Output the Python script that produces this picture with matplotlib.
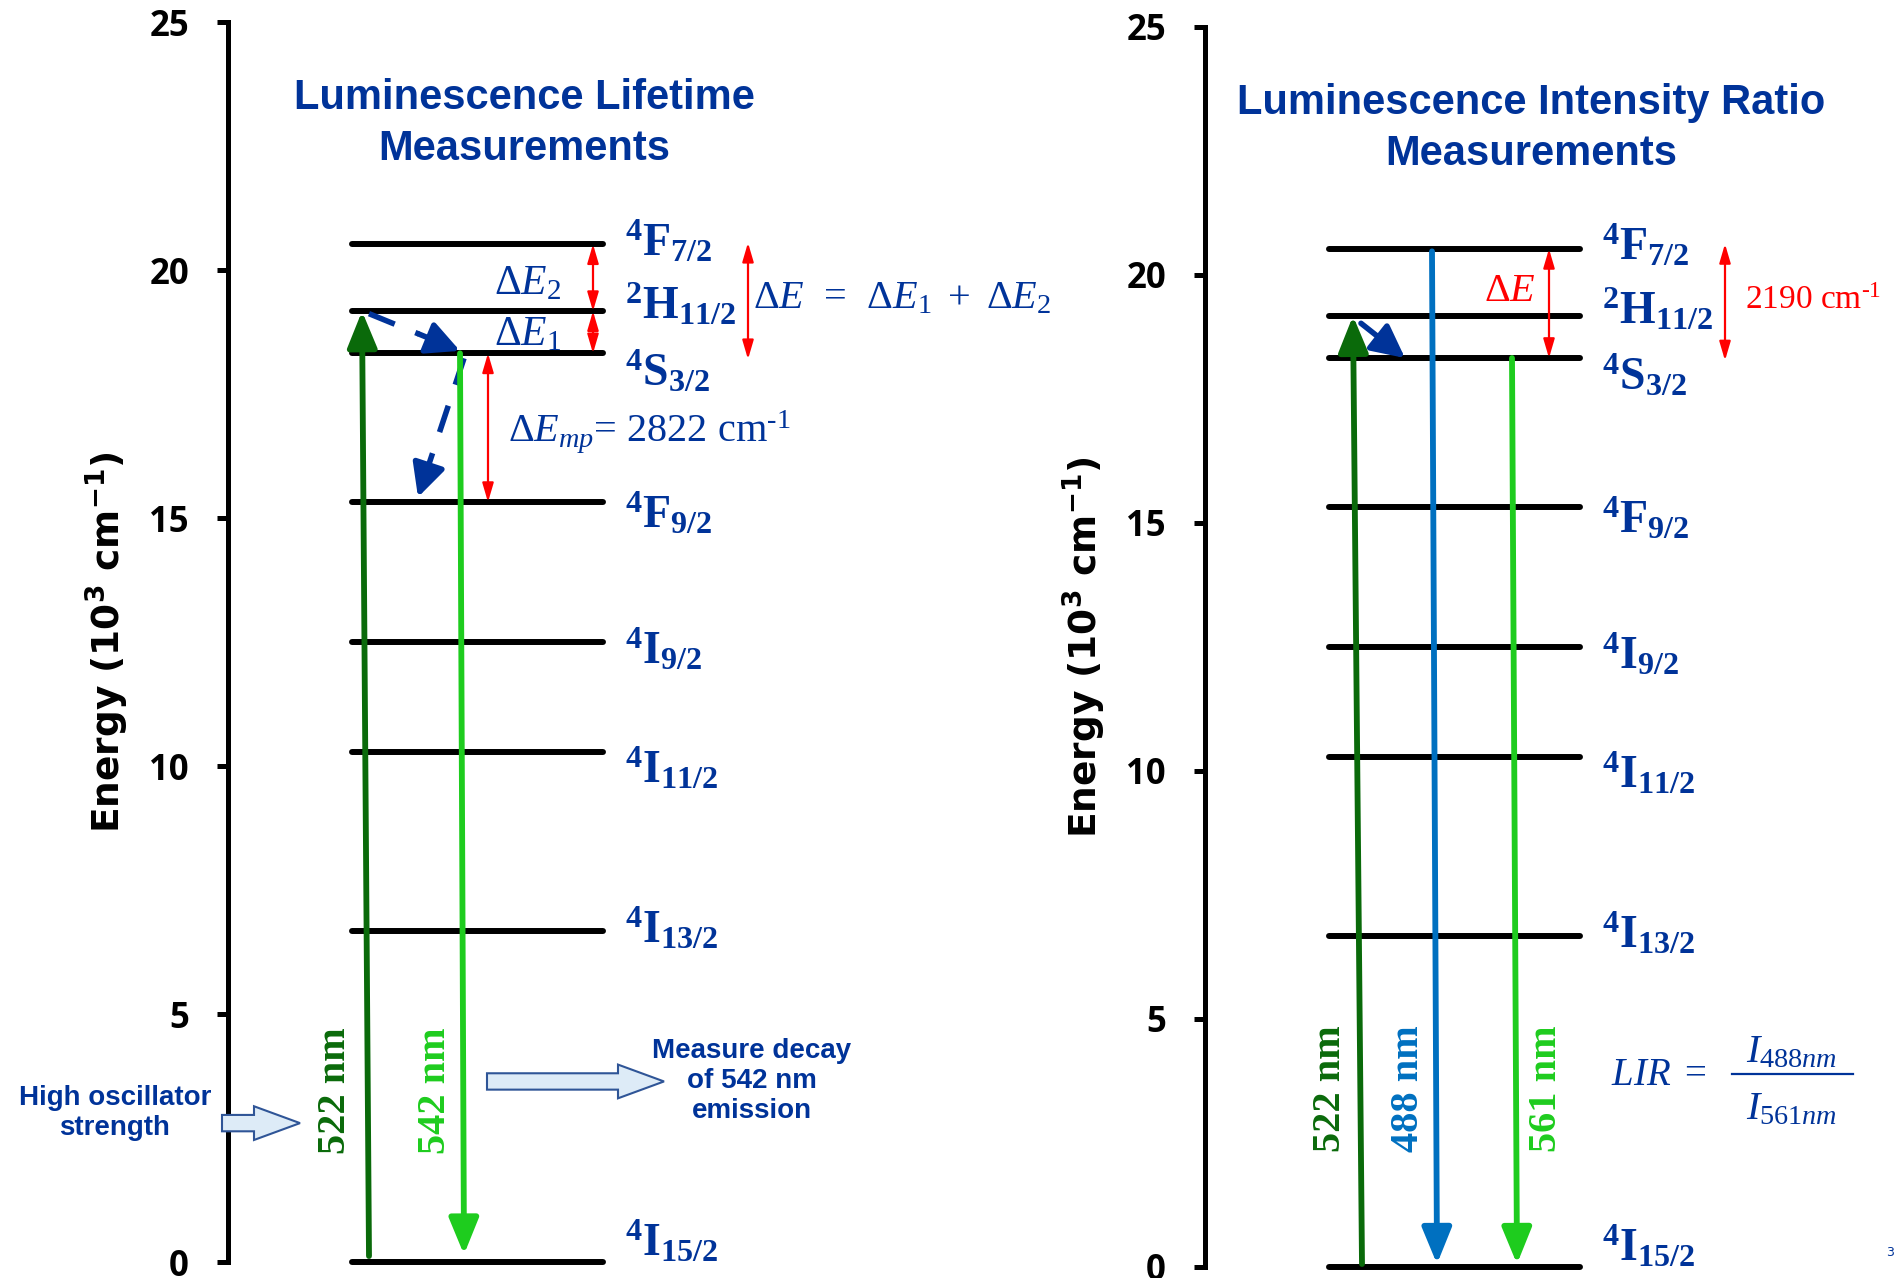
"""Er3+ energy level diagrams: lifetime vs. intensity-ratio measurements."""
import matplotlib
matplotlib.use("Agg")
import matplotlib.pyplot as plt
from matplotlib.patches import FancyArrow

# level energies (10^3 cm^-1)
LEVEL_TEX = [r"$\mathbf{^{4}F_{7/2}}$", r"$\mathbf{^{2}H_{11/2}}$", r"$\mathbf{^{4}S_{3/2}}$",
             r"$\mathbf{^{4}F_{9/2}}$", r"$\mathbf{^{4}I_{9/2}}$", r"$\mathbf{^{4}I_{11/2}}$",
             r"$\mathbf{^{4}I_{13/2}}$", r"$\mathbf{^{4}I_{15/2}}$"]
ENERGY = [20.52, 19.17, 18.32, 15.32, 12.50, 10.28, 6.68, 0.0]
YTICKS = [0, 5, 10, 15, 20, 25]

# transitions (start, end level energies)
E_GROUND, E_2H, E_4S, E_4F7, E_4F9 = 0.0, 19.17, 18.32, 20.52, 15.32
LEFT_LINES = ["522 nm", "542 nm"]
RIGHT_LINES = ["522 nm", "488 nm", "561 nm"]

NAVY = "#003399"
DKGREEN = "#0A6A0A"
LTGREEN = "#1ECC1E"
BLUE = "#0070C0"
RED = "#FF0000"
PX = 49.6  # pixels per 10^3 cm^-1

plt.rcParams["mathtext.fontset"] = "custom"
plt.rcParams["mathtext.rm"] = "Liberation Serif"
plt.rcParams["mathtext.it"] = "Liberation Serif:italic"
plt.rcParams["mathtext.bf"] = "Liberation Serif:bold"
NARROW = ["Liberation Sans Narrow", "Liberation Sans", "DejaVu Sans"]
SERIF = ["Liberation Serif", "DejaVu Serif"]

# baseline offset (px) of each level label below its line
LABEL_DROP = [11, 8, 32, 26, 22, 31, 12, -6]


def arrow(ax, p0, p1, color, lw=4.2, hw=0.45, hl=1.1, ms=20, style="-|>"):
    ax.annotate("", xy=p1, xytext=p0, annotation_clip=False,
                arrowprops=dict(arrowstyle=f"{style},head_width={hw},head_length={hl}",
                                color=color, lw=lw, shrinkA=0, shrinkB=0,
                                mutation_scale=ms))


def red_arrow(ax, x, e0, e1):
    arrow(ax, (x, e0), (x, e1), RED, lw=1.6, hw=0.28, hl=0.95, ms=12, style="<|-|>")


def dashed_arrow(ax, p0, p1, frac):
    mx = p1[0] - frac * (p1[0] - p0[0])
    my = p1[1] - frac * (p1[1] - p0[1])
    ax.plot([p0[0], mx], [p0[1], my], color=NAVY, lw=4, dashes=(5, 4),
            solid_capstyle="butt", clip_on=False)
    arrow(ax, (mx, my), p1, NAVY, lw=4, hw=0.5, hl=1.0, ms=20)


def block_arrow(ax, x, y, dx):
    ax.add_patch(FancyArrow(x, y, dx, 0, width=0.33, head_width=0.68, head_length=46,
                            length_includes_head=True, fc="#DDEBF7", ec="#2F5597",
                            lw=1.5, clip_on=False, zorder=5))


def panel(ax, xmax, title, title_x):
    ax.set_xlim(0, xmax)
    ax.set_ylim(0, 25)
    for s in ("top", "right", "bottom"):
        ax.spines[s].set_visible(False)
    ax.spines["left"].set_linewidth(3.6)
    ax.spines["left"].set_capstyle("projecting")
    ax.set_xticks([])
    ax.tick_params(axis="y", direction="out", length=8, width=3.6, pad=20, labelsize=25)
    ax.set_yticks(YTICKS)
    ax.set_yticklabels([str(t) for t in YTICKS])
    for t in ax.get_yticklabels():
        t.set_fontproperties({"family": ["Open Sans", "DejaVu Sans"], "weight": "bold",
                              "size": 25})
    ax.text(-121, 12.5, r"Energy (10$^{\mathbf{3}}$ cm$^{\mathbf{-1}}$)", rotation=90,
            ha="center", va="center", fontsize=27, fontweight="bold", family="DejaVu Sans",
            math_fontfamily="dejavusans", clip_on=False)
    ax.text(title_x, 22.95, title, ha="center", va="center", color=NAVY, fontsize=30,
            fontweight="bold", family=NARROW, linespacing=1.35)
    for e, lab, d in zip(ENERGY, LEVEL_TEX, LABEL_DROP):
        ax.plot([124, 375], [e, e], color="black", lw=4.3, solid_capstyle="round",
                clip_on=False, zorder=2)
        ax.text(397, e - d / PX, lab, color=NAVY, fontsize=33, ha="left", va="baseline")


def main():
    fig = plt.figure(figsize=(18.99, 12.78), dpi=100)
    axl = fig.add_axes([228 / 1899, 16 / 1278, 922 / 1899, 1240 / 1278])
    axr = fig.add_axes([1205 / 1899, 11 / 1278, 694 / 1899, 1240.4 / 1278])
    panel(axl, 922, "Luminescence Lifetime\nMeasurements", 296)
    panel(axr, 694, "Luminescence Intensity Ratio\nMeasurements", 326)

    # ---- left: lifetime ----
    arrow(axl, (141, E_GROUND + 0.12), (134, E_2H), DKGREEN)
    arrow(axl, (232, E_4S), (236, E_GROUND + 0.15), LTGREEN)
    dashed_arrow(axl, (141, E_2H - 0.05), (232, E_4S + 0.05), 0.45)
    dashed_arrow(axl, (236, E_4S - 0.1), (190, E_4F9 + 0.1), 0.22)
    red_arrow(axl, 365, E_4F7, E_2H)
    red_arrow(axl, 365, E_2H, E_4S)
    red_arrow(axl, 520, E_4F7 + 0.03, E_4S - 0.12)
    red_arrow(axl, 260, E_4S, E_4F9)
    axl.text(266, 19.52, r"$\Delta E_2$", color=NAVY, fontsize=30, va="baseline")
    axl.text(266, 18.49, r"$\Delta E_1$", color=NAVY, fontsize=30, va="baseline")
    axl.text(525, 19.23, r"$\Delta E\ \,=\ \,\Delta E_1\ +\ \Delta E_2$", color=NAVY,
             fontsize=29, va="baseline", clip_on=False)
    axl.text(280, 16.55, r"$\Delta E_{mp}$= 2822 cm$^{\text{-1}}$", color=NAVY, fontsize=29,
             va="baseline", family=SERIF)
    axl.text(108, 3.45, LEFT_LINES[0], rotation=90, ha="center", va="center", color=DKGREEN,
             fontsize=29, fontweight="bold", family=SERIF)
    axl.text(208, 3.45, LEFT_LINES[1], rotation=90, ha="center", va="center", color=LTGREEN,
             fontsize=29, fontweight="bold", family=SERIF)
    axl.text(-113, 3.0, "High oscillator\nstrength", ha="center", va="center", color=NAVY,
             fontsize=20, fontweight="bold", family=NARROW, clip_on=False)
    block_arrow(axl, -6, 2.8, 78)
    block_arrow(axl, 259, 3.64, 177)
    axl.text(524, 3.65, "Measure decay\nof 542 nm\nemission", ha="center", va="center",
             color=NAVY, fontsize=20, fontweight="bold", family=NARROW)

    # ---- right: intensity ratio ----
    arrow(axr, (157, E_GROUND + 0.06), (148, E_2H), DKGREEN)
    arrow(axr, (227, E_4F7 - 0.05), (232, E_GROUND + 0.06), BLUE)
    arrow(axr, (307, E_4S), (312, E_GROUND + 0.06), LTGREEN)
    arrow(axr, (156, E_2H - 0.15), (200, E_4S), NAVY, lw=4, hw=0.5, hl=1.0, ms=20)
    red_arrow(axr, 344, E_4F7, E_4S)
    red_arrow(axr, 520, E_4F7 + 0.1, E_4S - 0.05)
    axr.text(279, 19.47, r"$\Delta E$", color=RED, fontsize=29, va="baseline")
    axr.text(540, 19.3, r"2190 cm$^{\text{-1}}$", color=RED, fontsize=24, va="baseline",
             family=SERIF, clip_on=False)
    for x, lab, c in zip([125, 204, 342], RIGHT_LINES, [DKGREEN, BLUE, LTGREEN]):
        axr.text(x, 3.59, lab, rotation=90, ha="center", va="center", color=c,
                 fontsize=29, fontweight="bold", family=SERIF)
    # LIR = I488nm / I561nm
    axr.text(406, 3.89, r"$LIR\ =$", color=NAVY, fontsize=28, ha="left", va="center",
             clip_on=False)
    axr.text(587, 4.35, r"$I_{488nm}$", color=NAVY, fontsize=29, ha="center", va="center",
             clip_on=False)
    axr.text(587, 3.2, r"$I_{561nm}$", color=NAVY, fontsize=29, ha="center", va="center",
             clip_on=False)
    axr.plot([527, 648], [3.89, 3.89], color=NAVY, lw=1.6, clip_on=False)
    fig.text(1890 / 1899, 26 / 1278, "3", color=NAVY, fontsize=9, ha="center", va="center")

    fig.savefig("out.png", dpi=100)


if __name__ == "__main__":
    main()
